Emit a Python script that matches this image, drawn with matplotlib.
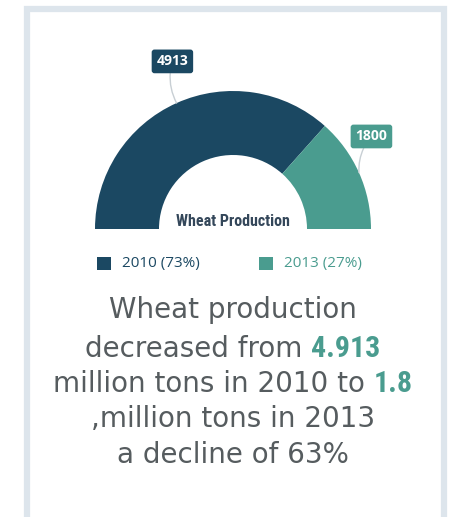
import matplotlib
matplotlib.use("Agg")
import matplotlib.pyplot as plt
from matplotlib.patches import Rectangle
from matplotlib import font_manager
import numpy as np

# === DATA ===
years = ["2010", "2013"]
values = [4913, 1800]
shares = [73, 27]
chart_title = "Wheat Production"
text_lines = [
    [("Wheat production", "n")],
    [("decreased from ", "n"), ("4.913", "b")],
    [("million tons in 2010 to ", "n"), ("1.8", "b")],
    [(",million tons in 2013", "n")],
    [("a decline of 63%", "n")],
]

DARK = "#1b4862"
TEAL = "#4a9c8f"
GREY = "#565c5f"
FRAME = "#dde5ec"

W, H = 456, 517

# narrow bold font for the highlighted numbers, if we have one
have = {f.name for f in font_manager.fontManager.ttflist}
narrow = dict(family="DejaVu Sans", fontstretch="condensed")
for name in ["Liberation Sans Narrow", "Roboto Condensed", "DejaVu Sans Condensed"]:
    if name in have:
        narrow = dict(family=name)
        break

fig = plt.figure(figsize=(W / 100, H / 100), dpi=100, facecolor="white")
ax = fig.add_axes([0, 0, 1, 1])


def Y(y):
    # pixel row from top -> data y
    return H - y


# frame
ax.add_patch(Rectangle((27, Y(530)), 417, 521, facecolor="white",
                       edgecolor=FRAME, linewidth=4.5))

# half donut: hidden lower half takes the other 180 degrees
cx, cy, r = 233, Y(229), 138
ring = (138 - 74) / 138
wedges, _ = ax.pie(values + [sum(values)], colors=[DARK, TEAL, "none"],
                   startangle=180, counterclock=False, radius=r,
                   center=(cx, cy), frame=True,
                   wedgeprops=dict(width=r * ring, linewidth=0))

offsets = [(-3, 30), (9, 26)]
for w, v, col, off in zip(wedges[:2], values, [DARK, TEAL], offsets):
    mid = np.deg2rad((w.theta1 + w.theta2) / 2)
    px, py = cx + r * np.cos(mid), cy + r * np.sin(mid)
    ax.annotate(str(v), xy=(px, py), xytext=off, textcoords="offset points",
                ha="center", va="center", color="white", fontsize=10,
                fontweight="bold", family="Open Sans",
                bbox=dict(boxstyle="round,pad=0.35,rounding_size=0.2",
                          fc=col, ec="none"),
                arrowprops=dict(arrowstyle="-", color="#c8cfd4", lw=1.0,
                                shrinkA=0, shrinkB=0,
                                connectionstyle="arc3,rad=0.2"))

ax.text(cx, Y(222), chart_title, ha="center", va="center", color="#34475a",
        fontsize=11.5, fontweight="bold", **narrow)

# legend
for i, (yr, sh, col) in enumerate(zip(years, shares, [DARK, TEAL])):
    x0 = 97 + i * 162
    ax.add_patch(Rectangle((x0, Y(270)), 14, 13, facecolor=col, lw=0))
    ax.text(x0 + 25, Y(264), f"{yr} ({sh}%)", ha="left", va="center",
            color=col, fontsize=11, family="Open Sans")

ax.set_xlim(0, W)
ax.set_ylim(0, H)
ax.set_aspect("auto")
ax.axis("off")

# summary text with highlighted numbers
fig.canvas.draw()
rend = fig.canvas.get_renderer()
baselines = [318, 357, 392, 427, 463]
styles = {
    "n": dict(color=GREY, fontsize=20, family="DejaVu Sans"),
    "b": dict(color=TEAL, fontsize=21.5, fontweight="bold", **narrow),
}
for parts, yy in zip(text_lines, baselines):
    objs = [ax.text(0, Y(yy), s, ha="left", va="baseline", **styles[k])
            for s, k in parts]
    widths = [o.get_window_extent(rend).width for o in objs]
    x = cx - sum(widths) / 2
    for o, wdt in zip(objs, widths):
        o.set_x(x)
        x += wdt

fig.savefig("out.png", dpi=100, facecolor="white")
